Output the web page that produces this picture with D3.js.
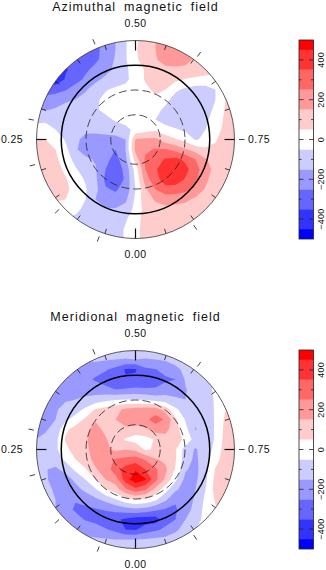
<!DOCTYPE html>
<html><head><meta charset="utf-8">
<script src="https://cdn.jsdelivr.net/npm/d3@7"></script>
<style>html,body{margin:0;padding:0;background:#fff}svg{display:block}text{font-family:"Liberation Sans",sans-serif;fill:#111}</style>
</head><body><svg id="c" width="326" height="570"><defs><filter id="soft" x="-5%" y="-5%" width="110%" height="110%"><feGaussianBlur stdDeviation="0.55"/></filter></defs></svg>
<script>
const titles = ["Azimuthal magnetic field", "Meridional magnetic field"];
const phaseLabels = ["0.00", "0.25", "0.50", "0.75"];
const levels = [-450, -350, -250, -150, -50, 50, 150, 250, 350, 450];
const bandColors = ["#3333ff", "#6666ff", "#9999ff", "#ccccff", "#ffffff", "#ffcccc", "#ff9999", "#ff6666", "#ff3333", "#ff0000"];
const lowestColor = "#0000ff";
const barLabels = [-400, -200, 0, 200, 400];
const obsPhases = [0.057, 0.132, 0.211, 0.28, 0.436, 0.602, 0.75, 0.905];
const latCircles = [30, 60];
const azimuthal = [
[-300,-300,-300,-300,-300,-300,-280,-200,-150,-60,30,100,150,200,220,220,180,120,80,60,50],
[-320,-320,-320,-320,-320,-320,-280,-210,-150,-60,40,100,150,210,230,220,150,110,80,60,50],
[-350,-350,-340,-330,-320,-300,-270,-210,-140,-60,30,100,140,200,220,190,130,100,60,50,50],
[-400,-400,-390,-360,-320,-270,-220,-180,-130,-70,0,60,110,120,120,120,110,80,60,30,40],
[-380,-420,-430,-340,-290,-230,-170,-130,-110,-70,-10,60,100,90,70,45,30,30,40,60,70],
[-300,-280,-280,-260,-200,-160,-110,-60,-30,-20,-10,30,70,50,-30,-70,-100,-100,-50,30,60],
[-200,-230,-210,-170,-150,-120,-70,-20,0,10,10,20,30,-20,-90,-110,-120,-110,-50,50,80],
[-150,-160,-140,-110,-100,-90,-60,-30,-5,10,10,0,-20,-70,-110,-120,-120,-90,-30,60,100],
[-70,-60,-60,-90,-100,-100,-90,-70,-40,-10,0,-20,-50,-100,-120,-120,-110,-70,-10,70,110],
[-20,-30,-50,-90,-110,-120,-110,-90,-90,-80,-20,10,30,-10,-40,-70,-80,-50,10,80,110],
[60,50,10,-60,-120,-190,-210,-210,-190,-150,160,170,170,100,60,20,-60,-30,40,100,110],
[110,100,50,-20,-140,-190,-210,-220,-250,-150,180,230,260,260,220,160,110,70,70,100,110],
[120,110,70,0,-80,-130,-160,-220,-290,-180,100,270,310,360,380,330,250,160,100,100,100],
[110,120,90,30,-40,-90,-140,-250,-320,-220,-10,250,340,410,430,380,290,190,120,100,90],
[100,100,110,60,0,-60,-130,-270,-340,-230,-30,200,320,390,400,340,270,170,100,80,70],
[100,100,100,70,20,-40,-120,-240,-260,-220,-50,130,250,320,310,280,220,140,80,70,70],
[80,80,60,50,10,-50,-150,-210,-220,-170,-30,110,160,180,180,170,130,90,80,80,80],
[40,40,10,0,-20,-80,-130,-140,-140,-110,-20,90,120,130,120,110,100,90,90,90,90],
[-40,-40,-40,-60,-80,-120,-130,-120,-110,-60,10,90,110,110,100,90,90,90,90,90,90],
[-60,-60,-60,-80,-100,-120,-120,-120,-90,-40,10,100,110,110,100,90,90,90,90,90,90],
[-60,-60,-60,-80,-100,-120,-120,-120,-90,-40,10,100,110,110,100,90,90,90,90,90,90]
];
const meridional = [
[-120,-120,-120,-120,-120,-120,-120,-120,-110,-110,-110,-110,-110,-110,-110,-110,-100,-100,-100,-100,-100],
[-160,-160,-160,-160,-150,-140,-130,-140,-150,-155,-150,-155,-150,-140,-120,-110,-100,-90,-80,-70,-60],
[-170,-170,-160,-170,-180,-200,-220,-240,-280,-360,-360,-270,-255,-210,-170,-130,-100,-80,-50,-30,-10],
[-180,-180,-170,-180,-190,-230,-260,-300,-320,-340,-330,-310,-290,-270,-250,-140,-110,-80,-30,10,30],
[-190,-190,-180,-170,-170,-190,-200,-220,-250,-240,-230,-240,-240,-200,-180,-155,-120,-90,-30,20,50],
[-190,-180,-170,-160,-150,-130,-110,-80,-60,-50,-50,-60,-90,-110,-140,-150,-130,-90,-40,40,70],
[-180,-170,-160,-120,-90,-30,60,90,120,170,190,200,200,110,-30,-100,-150,-100,-40,50,80],
[-170,-170,-150,-70,-10,70,140,110,150,210,220,230,290,240,70,-60,-140,-110,-40,70,100],
[-170,-160,-120,30,90,130,180,130,120,120,100,130,200,180,90,-20,-155,-110,-40,80,110],
[-150,-130,-80,60,110,140,190,160,100,40,10,10,60,110,90,30,-100,-100,-40,90,120],
[-110,-100,-70,20,100,130,190,170,130,150,130,40,60,110,60,-100,-160,-100,-20,100,120],
[-110,-120,-100,-30,50,110,180,200,260,280,300,240,160,130,60,-110,-170,-90,10,110,120],
[-130,-145,-170,-120,-30,40,140,190,310,390,440,350,270,170,40,-140,-180,-80,60,130,130],
[-130,-140,-180,-190,-130,-50,50,150,200,400,520,460,280,130,-30,-180,-170,-70,80,120,110],
[-130,-130,-160,-200,-180,-130,-60,40,100,230,320,260,120,-10,-130,-200,-150,-50,90,100,100],
[-130,-130,-150,-210,-240,-200,-170,-120,-60,20,50,30,-30,-130,-240,-220,-130,-30,60,60,60],
[-130,-130,-150,-200,-270,-280,-260,-240,-220,-190,-170,-190,-230,-260,-260,-200,-110,-20,40,50,50],
[-130,-130,-150,-170,-200,-260,-290,-320,-330,-370,-400,-400,-400,-290,-250,-150,-90,-20,30,40,40],
[-120,-120,-130,-140,-150,-170,-190,-240,-280,-350,-360,-300,-270,-230,-170,-110,-50,-10,20,30,30],
[-110,-110,-120,-130,-130,-140,-140,-140,-150,-150,-150,-140,-130,-120,-100,-80,-40,-10,10,20,20],
[-110,-110,-120,-130,-130,-140,-140,-140,-150,-150,-150,-140,-130,-120,-100,-80,-40,-10,10,20,20]
];
const fields = [azimuthal, meridional];

const svg = d3.select("#c");
const cx = 135.5, rOuter = 99, centers = [139.5, 449.5], barTops = [40, 350];
const colatR = d3.scaleLinear().domain([0, 120]).range([0, rOuter]);
const barX = 299, barW = 14.5;

fields.forEach((field, k) => {
  const cy = centers[k];
  const g = svg.append("g");
  const n = field.length;
  const flat = field.flat();
  const sx = d3.scaleLinear().domain([0.5, n - 0.5]).range([cx - 100, cx + 100]);
  const sy = d3.scaleLinear().domain([0.5, n - 0.5]).range([cy - 100, cy + 100]);
  const path = d3.geoPath(d3.geoTransform({ point(x, y) { this.stream.point(sx(x), sy(y)); } }));
  const clipId = "disk" + k;
  svg.append("clipPath").attr("id", clipId).append("circle").attr("cx", cx).attr("cy", cy).attr("r", rOuter);
  const disk = g.append("g").attr("clip-path", `url(#${clipId})`).append("g").attr("filter", "url(#soft)");
  disk.append("rect").attr("x", cx - 105).attr("y", cy - 105).attr("width", 210).attr("height", 210).attr("fill", lowestColor);
  const contours = d3.contours().size([n, n]).thresholds(levels)(flat);
  disk.selectAll("path").data(contours).join("path")
    .attr("d", path)
    .attr("fill", (d, i) => bandColors[i]);

  // rim and latitude circles
  g.append("circle").attr("cx", cx).attr("cy", cy).attr("r", rOuter).attr("fill", "none").attr("stroke", "#333").attr("stroke-width", 0.8);
  g.append("circle").attr("cx", cx).attr("cy", cy).attr("r", colatR(90)).attr("fill", "none").attr("stroke", "#000").attr("stroke-width", 1.5);
  g.selectAll("circle.lat").data(latCircles).join("circle").attr("class", "lat")
    .attr("cx", cx).attr("cy", cy).attr("r", d => colatR(d)).attr("fill", "none")
    .attr("stroke", "#222").attr("stroke-width", 0.8).attr("stroke-dasharray", "8 4");

  // phase ticks
  const ang = d3.scaleLinear().domain([0, 1]).range([Math.PI / 2, Math.PI / 2 + 2 * Math.PI]);
  const pt = (p, r) => [cx + r * Math.cos(ang(p)), cy + r * Math.sin(ang(p))];
  const inner = d3.range(20).map(i => i / 20);
  g.selectAll("line.in").data(inner).join("line").attr("class", "in")
    .each(function (p, i) {
      const len = i % 5 === 0 ? 10 : 5;
      const a = pt(p, rOuter), b = pt(p, rOuter - len);
      d3.select(this).attr("x1", a[0]).attr("y1", a[1]).attr("x2", b[0]).attr("y2", b[1]);
    })
    .attr("stroke", "#111").attr("stroke-width", (p, i) => i % 5 === 0 ? 1.2 : 0.8);
  g.selectAll("line.out").data(obsPhases).join("line").attr("class", "out")
    .each(function (p) {
      const a = pt(p, rOuter + 4.5), b = pt(p, rOuter + 10);
      d3.select(this).attr("x1", a[0]).attr("y1", a[1]).attr("x2", b[0]).attr("y2", b[1]);
    })
    .attr("stroke", "#111").attr("stroke-width", 0.8);

  // labels
  const ts = 10.5, tl = 0.4;
  g.append("text").attr("x", cx).attr("y", cy - 132.5).attr("text-anchor", "middle").attr("dy", "0.35em")
    .attr("font-size", 12.5).attr("letter-spacing", 1).attr("word-spacing", 3.5).text(titles[k]);
  g.append("text").attr("x", cx).attr("y", cy - 116).attr("text-anchor", "middle").attr("dy", "0.35em").attr("font-size", ts).attr("letter-spacing", tl).text(phaseLabels[2]);
  g.append("text").attr("x", cx).attr("y", cy + 114.5).attr("text-anchor", "middle").attr("dy", "0.35em").attr("font-size", ts).attr("letter-spacing", tl).text(phaseLabels[0]);
  g.append("text").attr("x", 12).attr("y", cy).attr("text-anchor", "middle").attr("dy", "0.35em").attr("font-size", ts).attr("letter-spacing", tl).text(phaseLabels[1]);
  g.append("text").attr("x", 259).attr("y", cy).attr("text-anchor", "middle").attr("dy", "0.35em").attr("font-size", ts).attr("letter-spacing", tl).text(phaseLabels[3]);

  // colour bar
  const top = barTops[k];
  const y = d3.scaleLinear().domain([500, -500]).range([top, top + 199]);
  const edges = [-500].concat(levels, [500]);
  const cols = [lowestColor].concat(bandColors);
  const bar = g.append("g");
  bar.selectAll("rect").data(cols).join("rect")
    .attr("x", barX).attr("width", barW)
    .attr("y", (d, i) => y(edges[i + 1])).attr("height", (d, i) => y(edges[i]) - y(edges[i + 1]))
    .attr("fill", d => d);
  const minor = d3.range(-400, 401, 100);
  bar.selectAll("g.tk").data(minor).join("g").attr("class", "tk").each(function (v) {
    const major = v % 200 === 0, len = major ? 4.5 : 2.5;
    const s = d3.select(this);
    s.append("line").attr("x1", barX).attr("x2", barX + len).attr("y1", y(v)).attr("y2", y(v)).attr("stroke", "#222").attr("stroke-width", 0.8);
    s.append("line").attr("x1", barX + barW).attr("x2", barX + barW - len).attr("y1", y(v)).attr("y2", y(v)).attr("stroke", "#222").attr("stroke-width", 0.8);
  });
  bar.append("rect").attr("x", barX).attr("y", top).attr("width", barW).attr("height", 199).attr("fill", "none").attr("stroke", "#222").attr("stroke-width", 0.8);
  bar.selectAll("text").data(barLabels).join("text")
    .attr("transform", d => `translate(321,${y(d)}) rotate(-90)`)
    .attr("text-anchor", "middle").attr("dy", "0.35em").attr("font-size", 9).attr("letter-spacing", 0.3)
    .text(d => d3.format("")(d).replace("-", "\u2212"));
});
</script></body></html>
